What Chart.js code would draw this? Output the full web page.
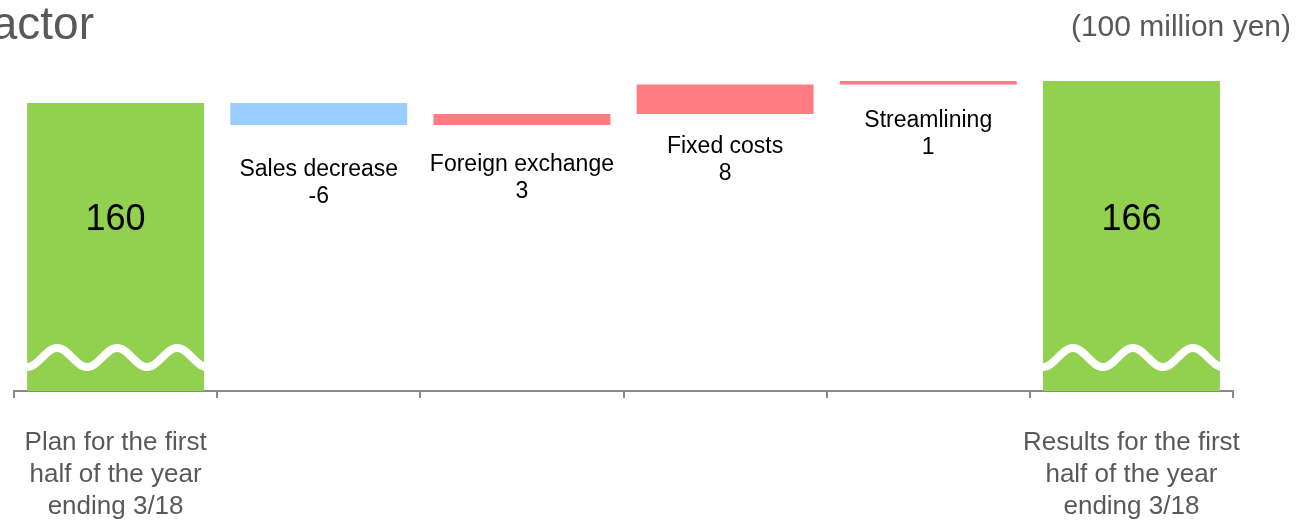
<!DOCTYPE html>
<html>
<head>
<meta charset="utf-8">
<script src="https://cdn.jsdelivr.net/npm/chart.js@4"></script>
<style>
  body { margin: 0; background: #fff; }
  #wrap { width: 1297px; height: 520px; position: relative; }
</style>
</head>
<body>
<div id="wrap"><canvas id="myChart"></canvas></div>
<script>
// waterfall data (100 million yen)
const stepNames = ['Plan', 'Sales decrease', 'Foreign exchange', 'Fixed costs', 'Streamlining', 'Results'];
const stepValues = [160, -6, 3, 8, 1, 166];
const stepIsTotal = [true, false, false, false, false, true];
const axisLabels = [
    ['Plan for the first', 'half of the year', 'ending 3/18'],
    '', '', '', '',
    ['Results for the first', 'half of the year', 'ending 3/18']
];

// axis is broken, so bars start from here instead of 0
const axisFloor = 81.5;
const axisTop = 171.7;

// label offsets below each change bar (px)
const labelGap = [0, 51, 46, 39, 42, 0];
const totalLabelAt = 128.2;

const FONT = '"Liberation Sans", Arial, sans-serif';

// build floating bars
let ranges = [];
let colors = [];
let running = 0;
for (let i = 0; i < stepValues.length; i++) {
    let v = stepValues[i];
    if (stepIsTotal[i]) {
        ranges.push([axisFloor, v]);
        colors.push('#92D050');
        running = v;
    } else {
        ranges.push([running, running + v]);
        colors.push(v < 0 ? '#99CCFF' : '#FF7C80');
        running += v;
    }
}

const waterfallDecor = {
    id: 'waterfallDecor',
    afterDatasetsDraw(chart) {
        const ctx = chart.ctx;
        const meta = chart.getDatasetMeta(0);
        const area = chart.chartArea;
        const yScale = chart.scales.y;
        ctx.save();
        meta.data.forEach((bar, i) => {
            const half = bar.width / 2;
            const left = bar.x - half;
            const right = bar.x + half;
            if (stepIsTotal[i]) {
                // wavy break line
                ctx.save();
                ctx.beginPath();
                ctx.rect(left, area.top, right - left, area.bottom - area.top);
                ctx.clip();
                ctx.beginPath();
                const mid = area.bottom - 33.5;
                for (let x = left - 5; x <= right + 5; x += 1) {
                    const y = mid + 9.5 * Math.cos(2 * Math.PI * (x - left) / 60);
                    if (x === left - 5) ctx.moveTo(x, y); else ctx.lineTo(x, y);
                }
                ctx.strokeStyle = '#ffffff';
                ctx.lineWidth = 8;
                ctx.stroke();
                ctx.restore();

                ctx.fillStyle = '#000';
                ctx.font = '36px ' + FONT;
                ctx.textAlign = 'center';
                ctx.textBaseline = 'middle';
                ctx.fillText(String(stepValues[i]), bar.x, yScale.getPixelForValue(totalLabelAt));
            } else {
                const bottom = Math.max(bar.y, bar.base);
                ctx.fillStyle = '#000';
                ctx.font = '23px ' + FONT;
                ctx.textAlign = 'center';
                ctx.textBaseline = 'alphabetic';
                ctx.fillText(stepNames[i], bar.x, bottom + labelGap[i]);
                ctx.fillText(String(stepValues[i]), bar.x, bottom + labelGap[i] + 27);
            }
        });

        // heading and unit
        ctx.fillStyle = '#595959';
        ctx.textBaseline = 'alphabetic';
        ctx.font = '46px ' + FONT;
        ctx.textAlign = 'right';
        ctx.fillText('Factor', 94, 39);
        ctx.font = '30px ' + FONT;
        ctx.fillText('(100 million yen)', 1291, 36);
        ctx.restore();
    }
};

const ctx = document.getElementById('myChart').getContext('2d');
const myChart = new Chart(ctx, {
    type: 'bar',
    data: {
        labels: axisLabels,
        datasets: [{
            data: ranges,
            backgroundColor: colors,
            borderWidth: 0,
            categoryPercentage: 1,
            barPercentage: 0.871
        }]
    },
    options: {
        responsive: true,
        maintainAspectRatio: false,
        animation: false,
        layout: {
            padding: { left: 14, right: 64, top: 60, bottom: 0 }
        },
        plugins: {
            legend: { display: false },
            tooltip: { enabled: false }
        },
        scales: {
            x: {
                afterFit: (s) => {
                    s.height = 129;
                    // the long first/last labels should not push the plot inward
                    s.paddingLeft = 0;
                    s.paddingRight = 0;
                },
                grid: {
                    display: true,
                    offset: true,
                    drawOnChartArea: false,
                    tickLength: 7,
                    color: '#888888',
                    lineWidth: 2
                },
                border: { display: true, color: '#888888', width: 2 },
                ticks: {
                    color: '#595959',
                    font: { family: FONT, size: 26, lineHeight: '32px' },
                    padding: 29,
                    maxRotation: 0,
                    minRotation: 0,
                    autoSkip: false
                }
            },
            y: {
                display: false,
                min: axisFloor,
                max: axisTop
            }
        }
    },
    plugins: [waterfallDecor]
});
</script>
</body>
</html>
